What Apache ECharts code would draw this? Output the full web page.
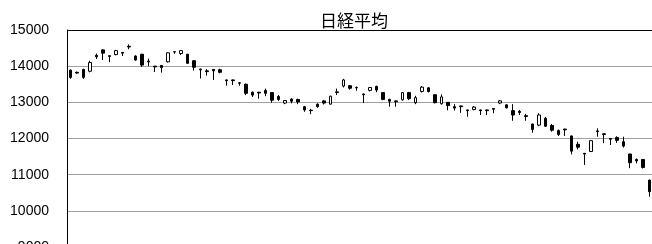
<!DOCTYPE html>
<html>
<head>
<meta charset="utf-8">
<script src="https://cdn.jsdelivr.net/npm/echarts@6/dist/echarts.min.js"></script>
<style>
html,body{margin:0;padding:0;background:#fff;}
#c{width:652px;height:244px;}
</style>
</head>
<body>
<div id="c"></div>
<script>
const title = '日経平均';
const yTicks = [9000, 10000, 11000, 12000, 13000, 14000, 15000];
const opens  = [13890,13830,13910,13860,14300,14450,14290,14320,14380,14550,14280,14330,14140,14000,14020,14120,14400,14350,14330,14150,
                13920,13870,13910,13900,13620,13620,13540,13500,13280,13280,13330,13270,13160,12980,13090,13080,12880,12780,12950,13040,
                12950,13270,13450,13460,13410,13230,13330,13440,13270,13080,13040,13070,13270,12990,13300,13400,13210,12960,13000,12880,
                12900,12790,12800,12790,12790,12830,12980,12930,12770,12750,12630,12400,12370,12560,12360,12220,12260,12070,11840,11590,
                11640,12210,12130,12000,12030,11910,11570,11420,11420,10850];
const closes = [13690,13810,13690,14100,14260,14360,14270,14430,14360,14530,14170,14030,14120,13980,13960,14370,14390,14430,14080,13970,
                13900,13850,13870,13830,13600,13600,13530,13250,13200,13260,13250,13060,13080,13050,13030,13010,12790,12770,12880,12980,
                13170,13290,13620,13390,13400,13210,13410,13340,13080,13030,13020,13270,13100,13130,13420,13300,12990,13150,12910,12840,
                12880,12770,12870,12770,12770,12810,13040,12850,12650,12720,12610,12250,12650,12340,12230,12110,12240,11650,11760,11570,
                11940,12190,12110,11980,11950,11790,11330,11380,11200,10530];
const lows   = [13650,13790,13650,13830,14200,14170,14110,14300,14280,14470,14150,13980,14000,13840,13820,14100,14340,14310,14060,13880,
                13660,13740,13620,13800,13460,13480,13460,13200,13150,13100,13170,12990,13040,12950,12970,12950,12740,12670,12850,12940,
                12940,13200,13410,13350,13320,12980,13300,13280,13060,12880,12880,13050,13060,12950,13270,13270,12970,12940,12780,12770,
                12710,12600,12780,12650,12650,12700,12950,12830,12490,12650,12490,12160,12340,12320,12190,12070,12070,11560,11700,11270,
                11630,12050,11870,11820,11880,11750,11180,11310,11170,10390];
const highs  = [13910,13850,13930,14150,14350,14470,14300,14450,14390,14600,14300,14340,14210,14000,14030,14380,14410,14440,14340,14170,
                13930,13920,13920,13930,13630,13630,13560,13520,13300,13290,13380,13280,13200,13060,13110,13100,12900,12820,12970,13060,
                13180,13380,13650,13480,13440,13240,13420,13460,13280,13100,13050,13280,13290,13180,13450,13420,13220,13220,13010,12950,
                12910,12800,12900,12800,12800,12840,13060,12950,12950,12790,12680,12410,12700,12600,12400,12250,12270,12080,11910,11600,
                11950,12280,12140,12010,12060,12050,11580,11450,11430,10860];
const categories = opens.map((_, i) => String(i + 1));

const candleData = opens.map((o, i) => [o, closes[i], lows[i], highs[i]]);
const gridColors = yTicks.map((v, i) => i === yTicks.length - 1 ? '#000000' : '#a0a0a0');

const chart = echarts.init(document.getElementById('c'), null, {renderer: 'canvas'});
chart.setOption({
  animation: false,
  backgroundColor: '#ffffff',
  title: {
    text: title,
    left: 320,
    top: 12,
    padding: 0,
    textStyle: {fontFamily: '"Noto Sans CJK JP", sans-serif', fontSize: 17, fontWeight: 'normal', color: '#000'}
  },
  grid: {left: 67, right: -1, top: 30, height: 217, containLabel: false, outerBoundsMode: 'none'},
  xAxis: {
    type: 'category',
    data: categories,
    boundaryGap: true,
    axisLine: {show: false},
    axisTick: {show: false},
    axisLabel: {show: false},
    splitLine: {show: false}
  },
  yAxis: {
    type: 'value',
    min: yTicks[0],
    max: yTicks[yTicks.length - 1],
    interval: 1000,
    axisLine: {show: true, lineStyle: {color: '#000', width: 1}},
    axisTick: {show: false},
    axisLabel: {color: '#000', fontSize: 14, fontFamily: 'Arial, "Liberation Sans", sans-serif', margin: 18,
                formatter: v => String(v)},
    splitLine: {show: true, lineStyle: {color: gridColors, width: 1}}
  },
  series: [{
    type: 'candlestick',
    data: candleData,
    barWidth: 3,
    itemStyle: {
      color: '#ffffff',
      color0: '#000000',
      borderColor: '#000000',
      borderColor0: '#000000',
      borderWidth: 1
    }
  }]
});
</script>
</body>
</html>
